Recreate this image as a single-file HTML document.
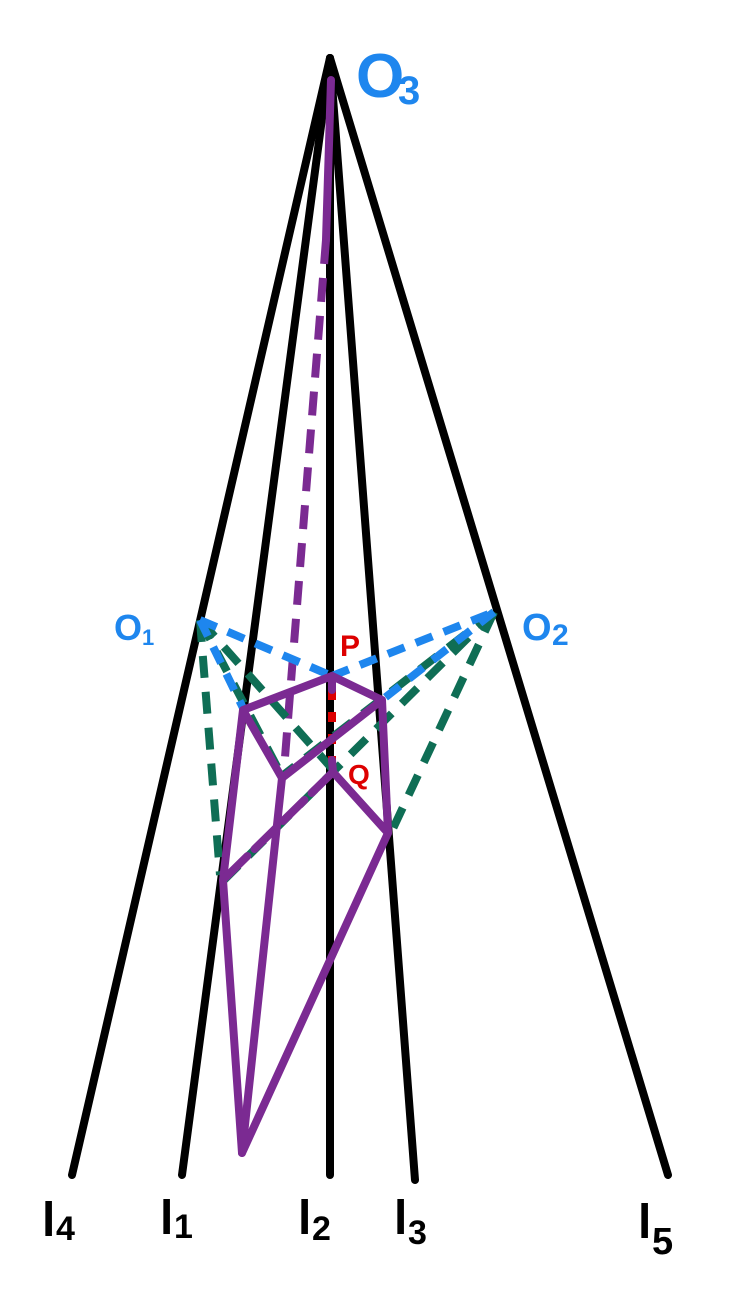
<!DOCTYPE html>
<html><head><style>html,body{margin:0;padding:0;background:#fff;}svg{display:block}</style></head>
<body>
<svg width="729" height="1298" viewBox="0 0 729 1298" xmlns="http://www.w3.org/2000/svg">
<g stroke="#000" stroke-width="8" stroke-linecap="round" fill="none">
<line x1="330" y1="58" x2="72" y2="1175"/>
<line x1="330" y1="58" x2="182" y2="1175"/>
<line x1="330" y1="58" x2="330" y2="1175"/>
<line x1="330" y1="58" x2="415" y2="1180"/>
<line x1="330" y1="58" x2="668" y2="1175"/>
</g>
<line x1="331" y1="80" x2="326" y2="240" stroke="#7b2a92" stroke-width="8" stroke-linecap="round"/>
<line x1="326" y1="240" x2="284" y2="770" stroke="#7b2a92" stroke-width="8" stroke-dasharray="24 14"/>
<g stroke="#0f6e55" stroke-width="8" fill="none" stroke-dasharray="22 14">
<line x1="200" y1="620" x2="220" y2="875"/>
<line x1="200" y1="620" x2="335" y2="772"/>
<line x1="200" y1="620" x2="282" y2="776"/>
<line x1="494" y1="612" x2="222" y2="882"/>
<line x1="494" y1="612" x2="390" y2="835"/>
<line x1="494" y1="612" x2="282" y2="776"/>
</g>
<g stroke="#1e86ee" stroke-width="8" fill="none" stroke-dasharray="18 12">
<line x1="200" y1="620" x2="332" y2="676"/>
<line x1="332" y1="676" x2="494" y2="612"/>
<line x1="200" y1="620" x2="243" y2="708"/>
<line x1="494" y1="612" x2="382" y2="700"/>
</g>
<line x1="332" y1="690" x2="332" y2="760" stroke="#d00" stroke-width="8" stroke-dasharray="10 12"/>
<g stroke="#7b2a92" stroke-width="8" stroke-linecap="round" stroke-linejoin="round" fill="none">
<polyline points="243,710 332,676 382,700 388,833 242,1153 223,880 243,710 282,778 382,700"/>
<line x1="282" y1="778" x2="242" y2="1153"/>
<line x1="332" y1="676" x2="332" y2="690"/>
<line x1="332" y1="760" x2="333" y2="772"/>
<line x1="333" y1="772" x2="388" y2="833"/>
<line x1="333" y1="772" x2="223" y2="880" stroke-dasharray="30 10"/>
</g>
<g font-family="Liberation Sans, sans-serif" font-weight="bold">
<text x="356" y="97" font-size="62" fill="#1e86ee">O</text><text x="398" y="104" font-size="40" fill="#1e86ee">3</text>
<text x="114" y="640" font-size="36" fill="#1e86ee">O</text><text x="142" y="645" font-size="22" fill="#1e86ee">1</text>
<text x="522" y="640" font-size="38" fill="#1e86ee">O</text><text x="552" y="645" font-size="30" fill="#1e86ee">2</text>
<text x="340" y="656" font-size="30" fill="#d00">P</text>
<text x="348" y="784" font-size="28" fill="#d00">Q</text>
</g>
<g font-family="Liberation Sans, sans-serif" font-size="48" font-weight="bold" fill="#000">
<text x="42" y="1236">l</text><text x="56" y="1240" font-size="34">4</text>
<text x="160" y="1234">l</text><text x="174" y="1238" font-size="34">1</text>
<text x="298" y="1234">l</text><text x="312" y="1240" font-size="34">2</text>
<text x="394" y="1234">l</text><text x="408" y="1244" font-size="34">3</text>
<text x="638" y="1238">l</text><text x="652" y="1254" font-size="38">5</text>
</g>
</svg>
</body></html>
